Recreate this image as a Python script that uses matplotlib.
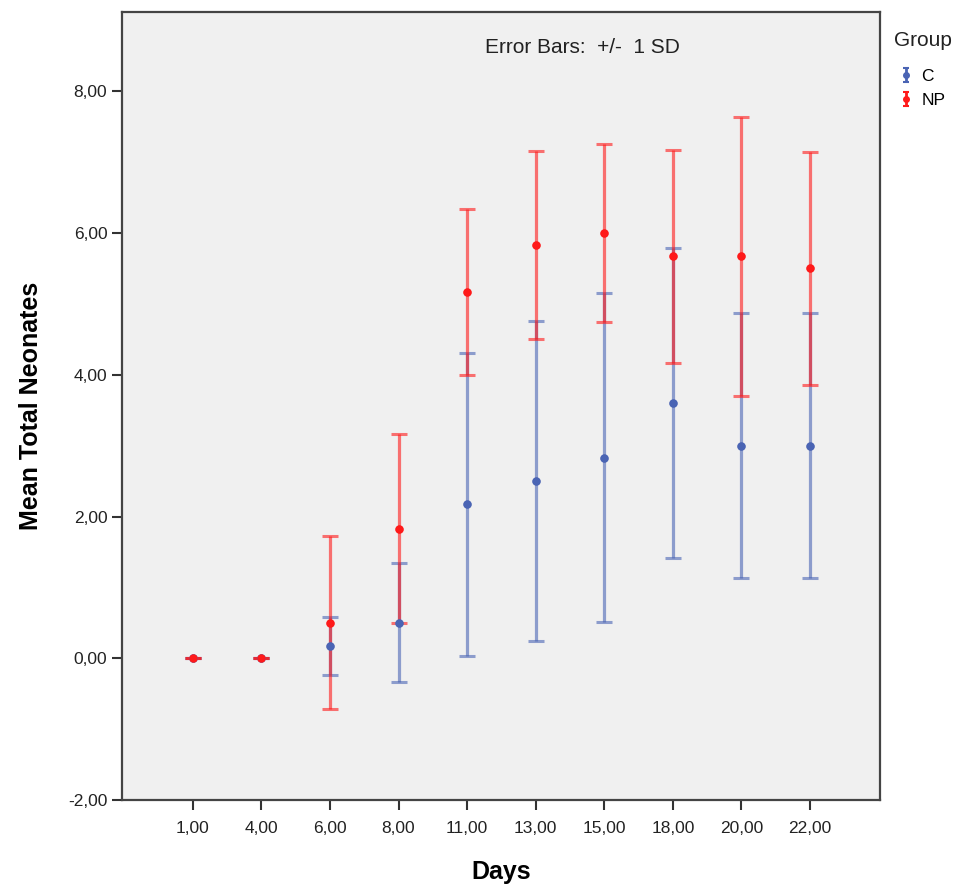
import numpy as np
import matplotlib.pyplot as plt
from matplotlib.legend_handler import HandlerErrorbar
from matplotlib.container import ErrorbarContainer

plt.rcParams['font.family'] = ['Liberation Sans', 'DejaVu Sans']

days = ['1,00', '4,00', '6,00', '8,00', '11,00', '13,00', '15,00', '18,00', '20,00', '22,00']
c_mean = [0.0, 0.0, 0.17, 0.50, 2.17, 2.50, 2.83, 3.60, 3.00, 3.00]
c_sd = [0.0, 0.0, 0.41, 0.84, 2.14, 2.26, 2.32, 2.19, 1.87, 1.87]
np_mean = [0.0, 0.0, 0.50, 1.83, 5.17, 5.83, 6.00, 5.67, 5.67, 5.50]
np_sd = [0.0, 0.0, 1.22, 1.33, 1.17, 1.33, 1.26, 1.50, 1.97, 1.64]

blue = '#4a64b4'
red = '#ff1a1a'

fig = plt.figure(figsize=(9.67, 8.91), dpi=100)
ax = fig.add_axes([0.126, 0.102, 0.784, 0.8845])
ax.set_facecolor('#f0f0f0')

x = np.arange(len(days))
ax.errorbar(x, c_mean, yerr=c_sd, fmt='o', color=blue, ecolor=blue,
            elinewidth=2.3, capsize=6, capthick=2.2, markersize=5,
            alpha=0.6, zorder=3)
ax.errorbar(x, np_mean, yerr=np_sd, fmt='o', color=red, ecolor=red,
            elinewidth=2.3, capsize=6, capthick=2.2, markersize=5,
            alpha=0.6, zorder=3)
# solid dots on top
ax.plot(x, c_mean, 'o', color=blue, markersize=5, zorder=5)
ax.plot(x, np_mean, 'o', color=red, markersize=5, zorder=5)

# small legend icons (nothing drawn)
leg_c = ax.errorbar([np.nan], [np.nan], yerr=[1], fmt='o', color=blue,
                    elinewidth=2, capsize=2.5, capthick=1.5, markersize=4)
leg_np = ax.errorbar([np.nan], [np.nan], yerr=[1], fmt='o', color=red,
                     elinewidth=2, capsize=2.5, capthick=1.5, markersize=4)

ax.set_xlim(-1.035, 10.02)
ax.set_ylim(-2, 9.115)
ax.set_xticks(x)
ax.set_xticklabels(days)
yt = [-2, 0, 2, 4, 6, 8]
ax.set_yticks(yt)
ax.set_yticklabels([('%.2f' % v).replace('.', ',') for v in yt])
ax.tick_params(axis='both', direction='out', length=7, width=1.5,
               labelsize=12.5, colors='#333333', labelcolor='#222222')
ax.tick_params(axis='x', pad=8)
for s in ax.spines.values():
    s.set_color('#444444')
    s.set_linewidth(1.6)

ax.set_xlabel('Days', fontsize=18, fontweight='bold', labelpad=17)
ax.set_ylabel('Mean Total Neonates', fontsize=18, fontweight='bold', labelpad=18)

ax.text(0.608, 0.955, 'Error Bars:  +/-  1 SD', transform=ax.transAxes,
        ha='center', va='center', fontsize=15, color='#222222')

fig.text(0.925, 0.955, 'Group', fontsize=15, color='#222222', ha='left', va='center')
leg = ax.legend([leg_c, leg_np], ['C', 'NP'], frameon=False,
                loc='upper left', bbox_to_anchor=(1.02, 0.937), fontsize=12.5,
                handlelength=0.4, handletextpad=0.7, labelspacing=0.55,
                borderaxespad=0.0,
                handler_map={ErrorbarContainer: HandlerErrorbar(xerr_size=0.2, yerr_size=0.4)})

fig.savefig('out.png', dpi=100)
